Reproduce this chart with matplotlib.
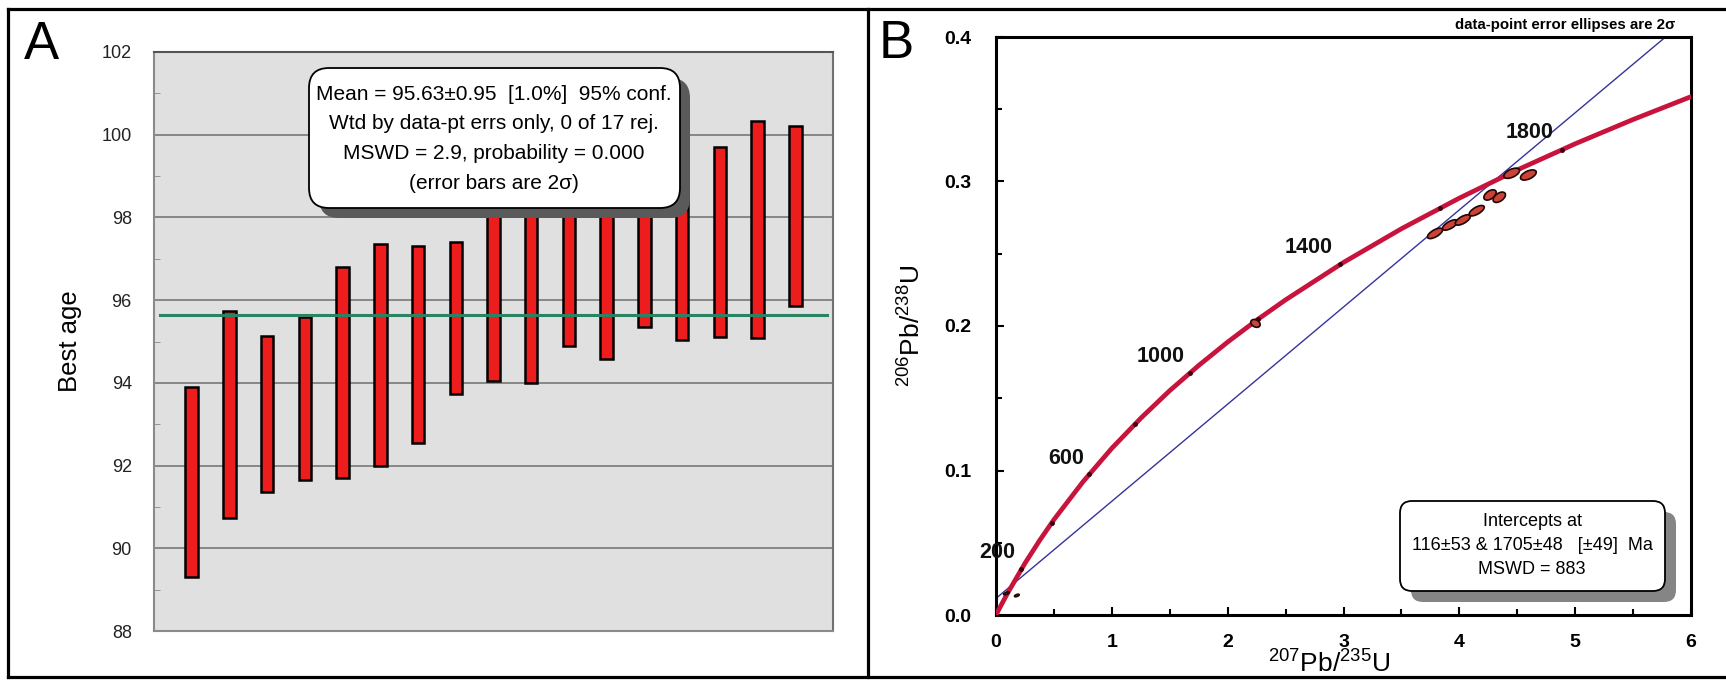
import matplotlib
matplotlib.use('Agg')
import matplotlib.pyplot as plt
import numpy as np
from matplotlib.patches import FancyBboxPatch
from matplotlib.lines import Line2D
from matplotlib.collections import EllipseCollection
from matplotlib.transforms import IdentityTransform
from matplotlib.ticker import MultipleLocator, FormatStrFormatter

plt.rcParams['font.family'] = ['Liberation Sans', 'DejaVu Sans']
plt.rcParams['mathtext.fontset'] = 'custom'
plt.rcParams['mathtext.rm'] = 'Liberation Sans'
plt.rcParams['mathtext.bf'] = 'Liberation Sans:bold'

# ---- panel A: weighted mean of best ages (2 sigma bars) ----
age_low = [89.31, 90.73, 91.36, 91.65, 91.70, 91.98, 92.55, 93.74, 94.04,
           93.99, 94.90, 94.57, 95.35, 95.04, 95.11, 95.09, 95.87]
age_high = [93.90, 95.74, 95.14, 95.59, 96.79, 97.36, 97.32, 97.40, 98.60,
            98.80, 98.50, 99.00, 98.90, 99.73, 99.71, 100.34, 100.20]
mean_age = 95.63
mean_text = ["Mean = 95.63\u00b10.95  [1.0%]  95% conf.",
             "Wtd by data-pt errs only, 0 of 17 rej.",
             "MSWD = 2.9, probability = 0.000",
             "(error bars are 2\u03c3)"]

# ---- panel B: concordia diagram ----
conc_x = [0, 0.05, 0.1, 0.25, 0.375, 0.5, 0.75, 1.0, 1.25, 1.5, 1.75, 2.0,
          2.25, 2.5, 3.0, 3.5, 4.0, 4.5, 5.0, 5.5, 6.0]
conc_y = [0, 0.0077, 0.0151, 0.0358, 0.0514, 0.0660, 0.0921, 0.1154, 0.1362,
          0.1553, 0.1727, 0.1889, 0.2040, 0.2181, 0.2440, 0.2673, 0.2885,
          0.3080, 0.3261, 0.3429, 0.3587]
age_tick_x = [0.2177, 0.4828, 0.8056, 1.1988, 1.6774, 2.2604, 2.9703, 3.8342, 4.8868]
age_tick_y = [0.0315, 0.0640, 0.0975, 0.1321, 0.1678, 0.2046, 0.2426, 0.2817, 0.3221]
age_labels = ["200", "600", "1000", "1400", "1800"]
age_label_x = [0.014, 0.606, 1.42, 2.70, 4.61]
age_label_y = [0.043, 0.108, 0.179, 0.254, 0.334]
disc_x = [0, 5.78]
disc_y = [0.0115, 0.40]
ell_x = [0.09, 0.18, 2.24, 3.79, 3.92, 4.03, 4.15, 4.265, 4.345, 4.452, 4.596]
ell_y = [0.0150, 0.0135, 0.2018, 0.2641, 0.2699, 0.2734, 0.2798, 0.2907, 0.2891, 0.3057, 0.3045]
ell_w = [6, 5, 7, 17, 17, 17, 17, 14, 14, 17, 17]   # px
ell_h = [2, 2, 10, 7, 7, 7, 7, 8, 8, 8, 8]
ell_a = [20, 20, 60, 30, 30, 30, 30, 35, 35, 25, 25]
intercept_text = ["Intercepts at",
                  "116\u00b153 & 1705\u00b148   [\u00b149]  Ma",
                  "MSWD = 883"]

W, H = 1726, 681
fig = plt.figure(figsize=(W / 100, H / 100), dpi=100)


def fx(x):
    return x / W


def fy(y):
    return 1 - y / H


def shadow_box(x0, y0, x1, y1, r, off, shade):
    sh = FancyBboxPatch((x0 + off, H - y1 - off), x1 - x0, y1 - y0,
                        boxstyle=f"round,pad=0,rounding_size={r}",
                        fc=shade, ec='none', transform=IdentityTransform(), zorder=5)
    bx = FancyBboxPatch((x0, H - y1), x1 - x0, y1 - y0,
                        boxstyle=f"round,pad=0,rounding_size={r}",
                        fc='white', ec='black', lw=1.3, transform=IdentityTransform(), zorder=6)
    fig.add_artist(sh)
    fig.add_artist(bx)


# outer frame + divider
for xs, ys in [([8, 8], [9, 677]), ([8, W], [9, 9]), ([8, W], [677, 677]), ([868, 868], [9, 677])]:
    fig.add_artist(Line2D([fx(v) for v in xs], [fy(v) for v in ys],
                          transform=fig.transFigure, color='black', lw=2.3))

fig.text(fx(41), fy(45), "A", fontsize=38, ha='center', va='center')
fig.text(fx(896), fy(44), "B", fontsize=38, ha='center', va='center')

# ---------------- panel A ----------------
ax1 = fig.add_axes([fx(154), fy(631), (833 - 154) / W, (631 - 52) / H])
ax1.set_facecolor('#e0e0e0')
pos = np.arange(1, len(age_low) + 1)
lo = np.array(age_low)
hi = np.array(age_high)
ax1.bar(pos, hi - lo, bottom=lo, width=0.33, color='#ee1d1d',
        edgecolor='black', linewidth=1.8, zorder=3)
ax1.plot([0.15, 17.85], [mean_age, mean_age], color='#2a8464', lw=2.2, zorder=4)
ax1.set_xlim(0, 18)
ax1.set_ylim(88, 102)
ax1.set_yticks(range(88, 103, 2))
ax1.yaxis.set_minor_locator(MultipleLocator(1))
ax1.grid(axis='y', which='major', color='#808080', lw=1.3)
ax1.set_axisbelow(True)
ax1.set_xticks([])
ax1.tick_params(axis='y', which='major', length=0, labelsize=13, pad=16, labelcolor='#222222')
ax1.tick_params(axis='y', which='minor', direction='in', length=4, color='#888888')
ax1.spines['left'].set_color('#8a8a8a')
ax1.spines['top'].set_color('#555555')
ax1.spines['right'].set_color('#707070')
ax1.spines['bottom'].set_color('#8a8a8a')
for s in ax1.spines.values():
    s.set_linewidth(1.5)
ax1.set_ylabel("Best age", fontsize=18.5, labelpad=14)

shadow_box(309, 68, 680, 208, 20, 10, '#5a5a5a')
for i, line in enumerate(mean_text):
    fig.text(fx(494), fy(94 + i * 29.7), line, fontsize=15, ha='center', va='center', zorder=7)

# ---------------- panel B ----------------
ax2 = fig.add_axes([fx(996), fy(615), (1691 - 996) / W, (615 - 37) / H])
ax2.plot(disc_x, disc_y, color='#34349a', lw=1.0, zorder=2)
ax2.plot(conc_x, conc_y, color='#c8143c', lw=3.4, solid_joinstyle='round',
         solid_capstyle='round', zorder=3)
ax2.plot(age_tick_x, age_tick_y, ls='none', marker='o', ms=2.5, color='#3a0010', zorder=4)
pt = 100 / 72
ec = EllipseCollection(np.array(ell_w) / pt, np.array(ell_h) / pt, ell_a, units='points',
                       offsets=list(zip(ell_x, ell_y)), offset_transform=ax2.transData,
                       facecolors='#cc4236', edgecolors='#1e0606', linewidths=1.2, zorder=5)
ax2.add_collection(ec)
for lab, lx, ly in zip(age_labels, age_label_x, age_label_y):
    ax2.text(lx, ly, lab, fontsize=15.5, fontweight='bold', ha='center', va='center',
             color='#111111', zorder=6)
ax2.set_xlim(0, 6)
ax2.set_ylim(0, 0.4)
ax2.xaxis.set_major_locator(MultipleLocator(1))
ax2.xaxis.set_minor_locator(MultipleLocator(0.5))
ax2.yaxis.set_major_locator(MultipleLocator(0.1))
ax2.yaxis.set_minor_locator(MultipleLocator(0.05))
ax2.yaxis.set_major_formatter(FormatStrFormatter('%.1f'))
ax2.tick_params(which='both', direction='in', width=1.5, labelsize=14)
ax2.tick_params(which='major', length=6)
ax2.tick_params(which='minor', length=4)
ax2.tick_params(axis='y', pad=18)
ax2.tick_params(axis='x', pad=14)
for lab in ax2.get_xticklabels() + ax2.get_yticklabels():
    lab.set_fontweight('bold')
for s in ax2.spines.values():
    s.set_linewidth(2.2)
ax2.set_xlabel(r"$^{207}$Pb/$^{235}$U", fontsize=19)
ax2.xaxis.set_label_coords(0.48, -0.058)
ax2.set_ylabel(r"$^{206}$Pb/$^{238}$U", fontsize=19, labelpad=14)

fig.text(fx(1675), fy(25), "data-point error ellipses are 2\u03c3", fontsize=10.8,
         fontweight='bold', ha='right', va='center')

shadow_box(1400, 501, 1665, 591, 12, 11, '#858585')
for i, line in enumerate(intercept_text):
    fig.text(fx(1532), fy(521 + i * 24), line, fontsize=13, ha='center', va='center', zorder=7)

fig.savefig("out.png", dpi=100)
